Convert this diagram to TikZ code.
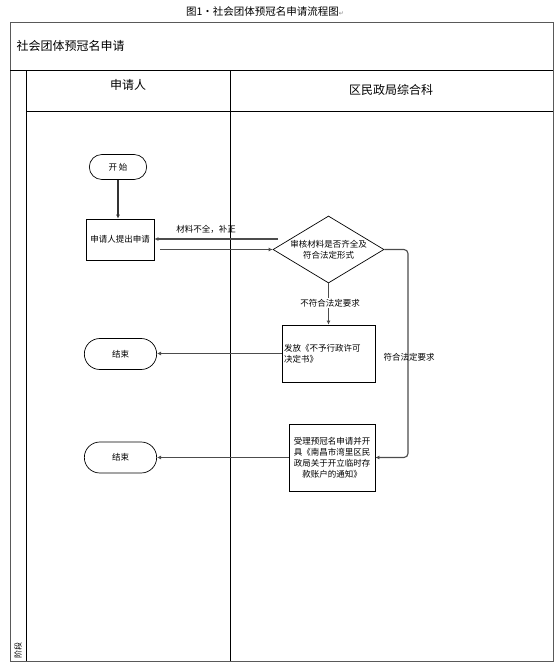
\documentclass[tikz,border=0pt]{standalone}
\usepackage{fontspec}
\setmainfont{Noto Sans CJK SC}
\newfontfamily\markfont{DejaVu Sans}
\usetikzlibrary{shapes.geometric,shapes.misc,arrows.meta}

\begin{document}
\begin{tikzpicture}[x=1pt, y=-1pt,
  frame/.style={draw=black, line width=0.8pt},
  lane/.style={font=\fontsize{12}{14}\selectfont},
  term/.style={draw, line width=0.7pt, rounded rectangle, minimum width=79pt, minimum height=31pt, font=\fontsize{8.5}{10}\selectfont},
  proc/.style={draw, line width=0.8pt, inner sep=2pt, font=\fontsize{8.5}{11}\selectfont},
  check/.style={draw, line width=0.7pt, diamond, aspect=1.66, minimum width=111pt, minimum height=67pt, inner sep=0pt, align=center, font=\fontsize{8.5}{11}\selectfont},
  note/.style={font=\fontsize{8.5}{10}\selectfont},
  flow/.style={draw=gray!60!black, line width=1.1pt, -{Latex[length=4pt,width=4pt]}}
]
\useasboundingbox (0,0) rectangle (558,670);

% frame and lanes
\draw[draw=gray!70!black, line width=1pt] (10,22) rectangle (553,661);
\draw[frame] (10,70) -- (553,70);
\draw[frame] (26,70) -- (26,661);
\draw[frame] (26,111) -- (553,111);
\draw[frame] (230,70) -- (230,661);

\node[font=\fontsize{10.5}{12}\selectfont] (title) at (265,11) {图1·社会团体预冠名申请流程图{\markfont\color{gray}\fontsize{6}{6}\selectfont ↵}};
\node[lane, anchor=west] (head) at (13,46) {社会团体预冠名申请};
\node[lane] (lane1) at (128,85) {申请人};
\node[lane] (lane2) at (391,90) {区民政局综合科};
\node[font=\fontsize{8}{9}\selectfont, rotate=90, anchor=west, inner sep=0pt] (phase) at (18,659) {阶段};

% steps
\node[term, minimum width=64pt, minimum height=25pt] (start) at (118,167) {开\ 始};
\node[proc, minimum width=68pt, minimum height=41pt] (apply) at (120,239.5) {申请人提出申请};
\node[check] (review) at (328.5,249.5) {审核材料是否齐全及\\符合法定形式};
\node[proc, minimum width=93pt, minimum height=57pt, text width=89pt, align=left] (reject) at (328.5,353.5) {发放《不予行政许可\\决定书》};
\node[term] (end1) at (120.5,354) {结束};
\node[proc, minimum width=86pt, minimum height=67pt, text width=82pt, align=center] (accept) at (332,457.5) {受理预冠名申请并开\\具《南昌市湾里区民\\政局关于开立临时存\\款账户的通知》};
\node[term] (end2) at (120.5,457.5) {结束};

% connectors
\coordinate (back) at (278,239);
\coordinate (turn) at (408,249.5);
\draw[flow, draw=black!80] (start.south) -- (start.south |- apply.north);
\draw[flow] (back) -- (back -| apply.east);
\draw[flow] ([xshift=6pt]apply.east |- review.west) -- (review.west);
\draw[flow] (review.south) -- (reject.north);
\draw[flow] (reject.west) -- (reject.west -| end1.east);
\draw[flow, rounded corners=4pt] (review.east) -- (turn) |- (accept.east);
\draw[flow] (accept.west) -- (end2.east);

% labels
\node[note] (fix) at (206,229) {材料不全，补正};
\node[note, fill=white, inner sep=1pt] (nofit) at (330,303) {不符合法定要求};
\node[note] (fit) at (409,357) {符合法定要求};
\end{tikzpicture}
\end{document}
